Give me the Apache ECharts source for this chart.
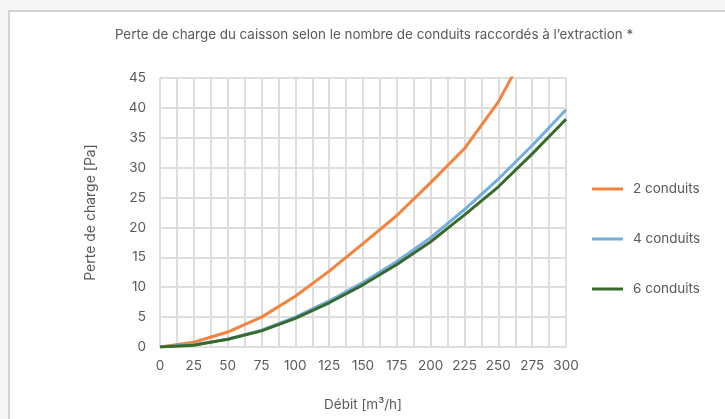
<!DOCTYPE html>
<html>
<head>
<meta charset="utf-8">
<script src="https://cdn.jsdelivr.net/npm/echarts@6/dist/echarts.min.js"></script>
<style>
  html, body { margin: 0; padding: 0; background: #f6f6f6; }
  #frame {
    position: absolute; left: 8px; top: 10px; width: 740px; height: 430px;
    background: #fff; border-left: 2px solid #d2d2d2; border-top: 2px solid #d2d2d2;
  }
  #chart { position: absolute; left: 0; top: 0; width: 725px; height: 419px; }
</style>
</head>
<body>
<div id="frame"></div>
<div id="chart"></div>
<script>
// débit [m³/h]
const debits = [0, 25, 50, 75, 100, 125, 150, 175, 200, 225, 250, 275, 300];
// perte de charge [Pa]
const conduits2 = [0, 0.8, 2.5, 5.0, 8.5, 12.7, 17.3, 22.0, 27.5, 33.2, 41.0, 51.5, 62.0];
const conduits4 = [0, 0.4, 1.3, 2.8, 5.0, 7.7, 10.8, 14.3, 18.3, 23.0, 28.1, 33.7, 39.7];
const conduits6 = [0, 0.3, 1.3, 2.7, 4.8, 7.4, 10.4, 13.8, 17.6, 22.1, 26.8, 32.3, 38.1];

const seriesNames = ['2 conduits', '4 conduits', '6 conduits'];
const colors = ['#f4833d', '#72aedf', '#3a6a2b'];

const txt = '#595959';
const gridColor = '#dedede';

const pairs = (ys) => debits.map((x, i) => [x, ys[i]]);

const chart = echarts.init(document.getElementById('chart'));
chart.setOption({
  animation: false,
  textStyle: { fontFamily: 'Inter' },
  title: {
    text: 'Perte de charge du caisson selon le nombre de conduits raccordés à l’extraction *',
    left: 369, top: 23, textAlign: 'center',
    textStyle: { fontSize: 13.4, fontWeight: 'normal', color: txt, fontFamily: 'Inter' }
  },
  legend: {
    orient: 'vertical',
    left: 587, top: 177,
    itemGap: 36,
    itemWidth: 31, itemHeight: 3,
    icon: 'rect',
    textStyle: { fontSize: 13.5, color: txt, fontFamily: 'Inter', padding: [0, 0, 0, 5] },
    data: seriesNames
  },
  grid: { left: 160, right: 159, top: 78, bottom: 72 },
  xAxis: {
    type: 'value',
    min: 0, max: 300, interval: 25,
    name: 'Débit [m³/h]',
    nameLocation: 'middle', nameGap: 51,
    nameTextStyle: { fontSize: 13.5, color: txt },
    axisLine: { show: true, lineStyle: { color: gridColor, width: 2 } },
    axisTick: { show: false },
    axisLabel: { fontSize: 13.5, color: txt, margin: 12 },
    splitLine: { show: true, lineStyle: { color: gridColor, width: 2 } },
    minorTick: { show: false, splitNumber: 2 },
    minorSplitLine: { show: true, lineStyle: { color: gridColor, width: 2 } }
  },
  yAxis: {
    type: 'value',
    min: 0, max: 45, interval: 5,
    name: 'Perte de charge [Pa]',
    nameLocation: 'middle', nameGap: 62,
    nameTextStyle: { fontSize: 14, color: txt },
    axisLine: { show: false },
    axisTick: { show: false },
    axisLabel: { fontSize: 13.5, color: txt, margin: 14 },
    splitLine: { show: true, lineStyle: { color: gridColor, width: 2 } }
  },
  series: [conduits2, conduits4, conduits6].map((ys, i) => ({
    name: seriesNames[i],
    type: 'line',
    data: pairs(ys),
    symbol: 'none',
    clip: true,
    lineStyle: { color: colors[i], width: 3 },
    itemStyle: { color: colors[i] }
  }))
});
</script>
</body>
</html>
